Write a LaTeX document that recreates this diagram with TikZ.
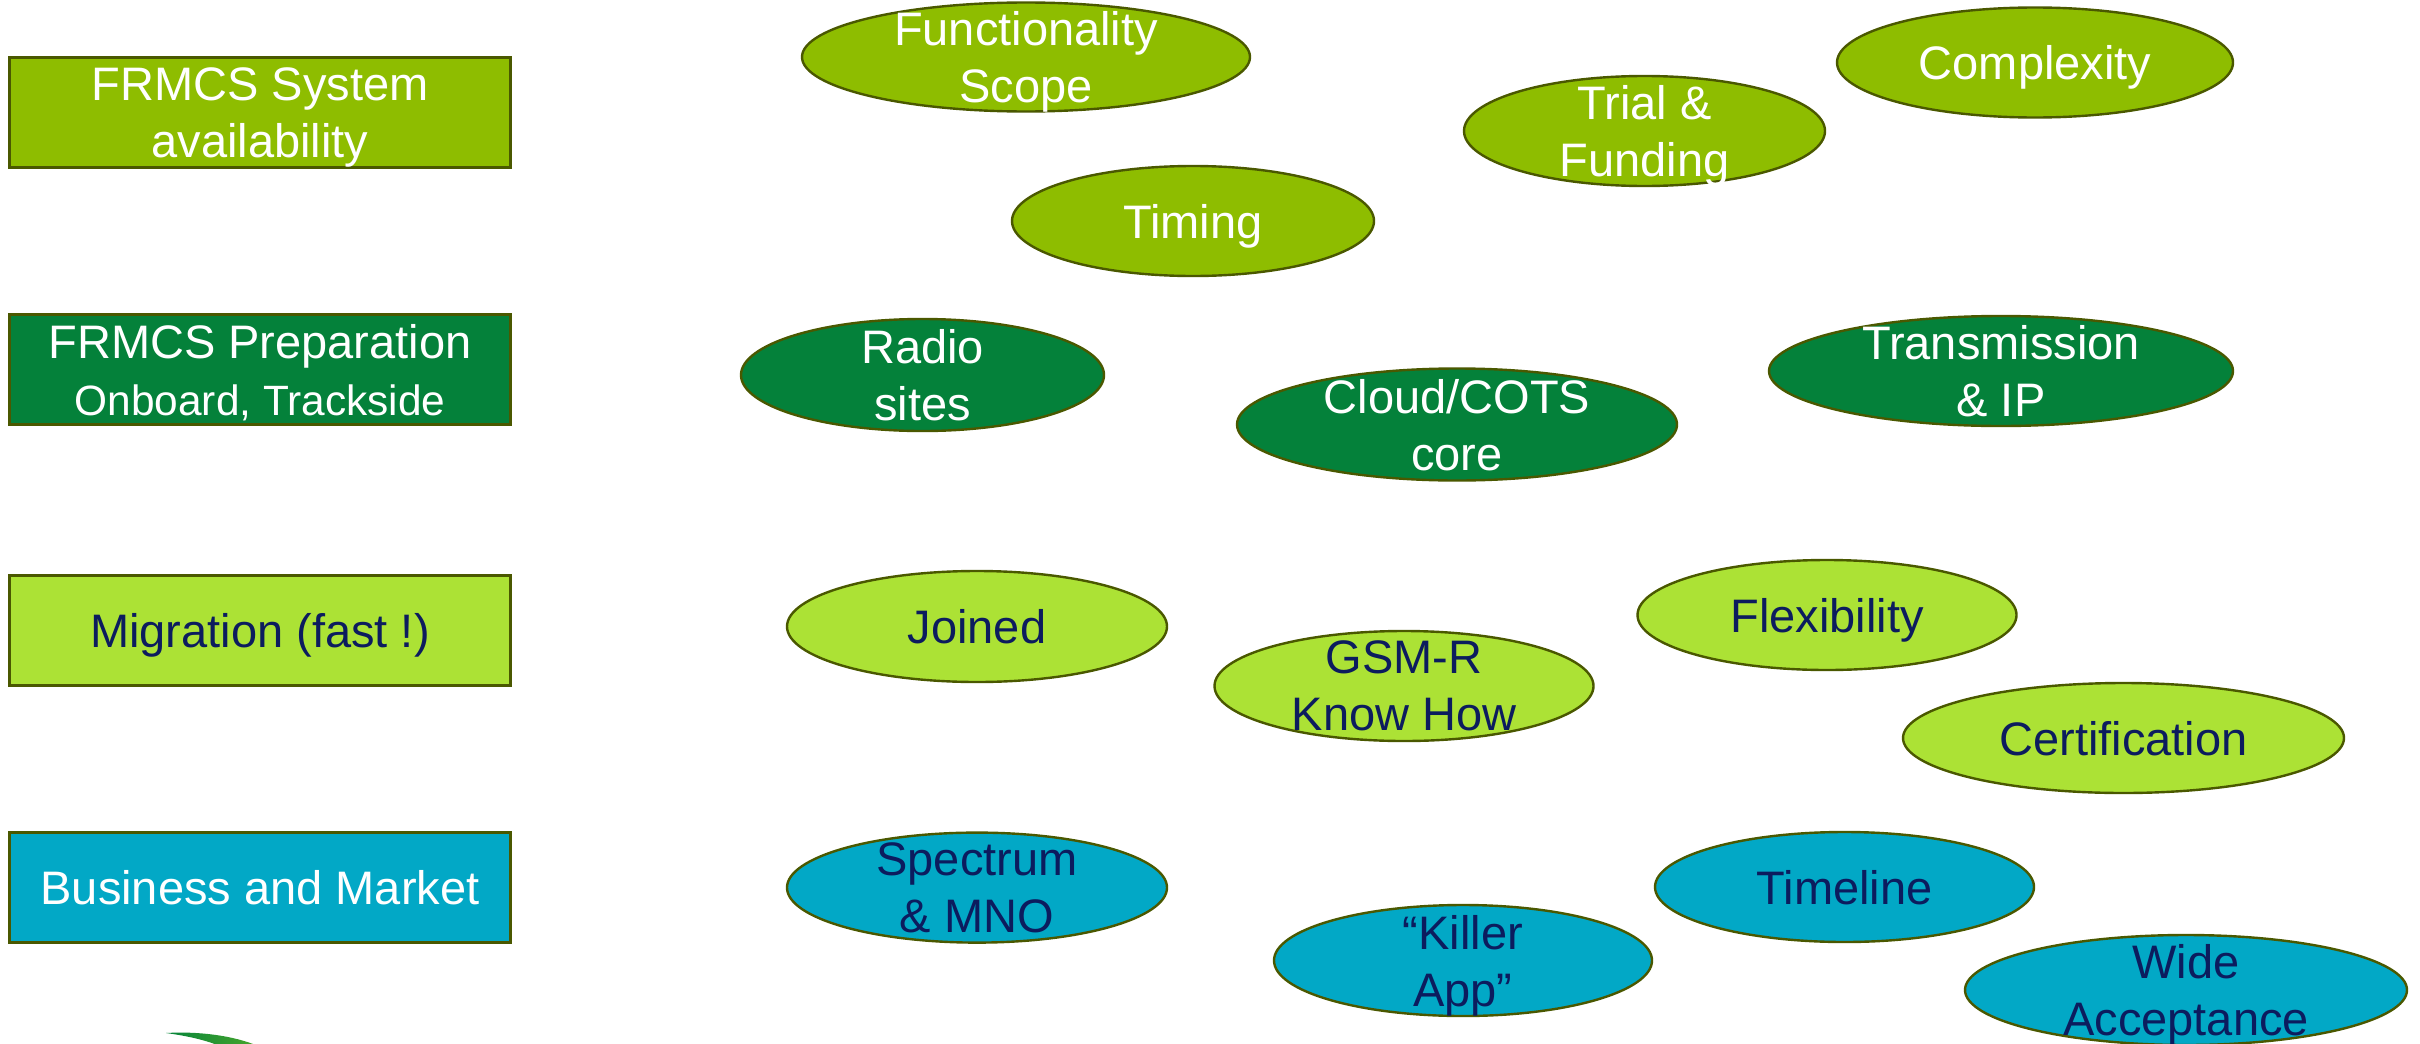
\documentclass[tikz,border=0pt]{standalone}
\usepackage{fontspec}
\setmainfont{Liberation Sans}
\usetikzlibrary{shapes.geometric}

\definecolor{sysgreen}{HTML}{8EBD00}
\definecolor{prepgreen}{HTML}{04813A}
\definecolor{miglime}{HTML}{ACE235}
\definecolor{bizteal}{HTML}{02A8C6}
\definecolor{edge}{HTML}{4A5800}
\definecolor{navy}{HTML}{0C1C5E}
\definecolor{swooshdark}{HTML}{05843A}
\definecolor{swooshlight}{HTML}{4AA62C}

\tikzset{
  rowbox/.style={rectangle, draw=edge, line width=1.4pt,
    minimum width=250.5pt, minimum height=55pt, inner sep=0pt},
  % #1 and #2 are the outer diameters in pixels of the 2420-wide layout
  bubble/.style 2 args={ellipse, draw=edge, line width=1.2pt,
    minimum width=#1*0.5pt-1pt, minimum height=#2*0.5pt-1pt, inner sep=0pt},
  lbl/.style={font=\fontsize{23.5}{28.5}\selectfont, align=center,
    text depth=0pt, inner sep=0pt},
  onwhite/.style={lbl, text=white},
  onnavy/.style={lbl, text=navy},
}

\begin{document}
\begin{tikzpicture}[x=0.5pt, y=-0.5pt]
\useasboundingbox (0,0) rectangle (2420,1044);
\clip (0,0) rectangle (2420,1044);

% category boxes on the left
\node[rowbox, fill=sysgreen]  (sys)  at (260,112.5) {};
\node[onwhite] (sys-t) at (sys) {FRMCS System\\availability};

\node[rowbox, fill=prepgreen] (prep) at (260,369.5) {};
\node[onwhite] (prep-t) at (prep) {FRMCS Preparation\\{\fontsize{21.2}{26.4}\selectfont Onboard, Trackside}};

\node[rowbox, fill=miglime]   (mig)  at (260,630.5) {};
\node[onnavy] (mig-t) at (mig) {Migration (fast !)};

\node[rowbox, fill=bizteal]   (biz)  at (260,887.5) {};
\node[onwhite] (biz-t) at (biz) {Business and Market};

% system availability topics
\node[bubble={450}{111}, fill=sysgreen] (scope) at (1026,57) {};
\node[onwhite] (scope-t) at (scope) {Functionality\\Scope};
\node[bubble={364}{112}, fill=sysgreen] (timing) at (1193,221) {};
\node[onwhite] (timing-t) at (timing) {Timing};
\node[bubble={363}{112}, fill=sysgreen] (trial) at (1644.5,131) {};
\node[onwhite] (trial-t) at (trial) {Trial \&\\Funding};
\node[bubble={398}{112}, fill=sysgreen] (complex) at (2035,62.5) {};
\node[onwhite] (complex-t) at (complex) {Complexity};

% preparation topics
\node[bubble={365}{114}, fill=prepgreen] (radio) at (922.5,375) {};
\node[onwhite] (radio-t) at (radio) {Radio\\sites};
\node[bubble={442}{114}, fill=prepgreen] (cloud) at (1457,424.5) {};
\node[onwhite] (cloud-t) at (cloud) {Cloud/COTS\\core};
\node[bubble={466}{112}, fill=prepgreen] (trans) at (2001,371) {};
\node[onwhite] (trans-t) at (trans) {Transmission\\\& IP};

% migration topics
\node[bubble={382}{113}, fill=miglime] (joined) at (977,626.5) {};
\node[onnavy] (joined-t) at (joined) {Joined};
\node[bubble={381}{112}, fill=miglime] (gsmr) at (1404,686) {};
\node[onnavy] (gsmr-t) at (gsmr) {GSM-R\\Know How};
\node[bubble={381}{112}, fill=miglime] (flex) at (1827,615) {};
\node[onnavy] (flex-t) at (flex) {Flexibility};
\node[bubble={443}{112}, fill=miglime] (cert) at (2123.5,738) {};
\node[onnavy] (cert-t) at (cert) {Certification};

% business and market topics
\node[bubble={382}{112}, fill=bizteal] (spectrum) at (977,887.6) {};
\node[onnavy] (spectrum-t) at (spectrum) {Spectrum\\\& MNO};
\node[bubble={380}{113}, fill=bizteal] (killer) at (1463,960.5) {};
\node[onnavy] (killer-t) at (killer) {“Killer\\App”};
\node[bubble={381}{112}, fill=bizteal] (timeline) at (1844.5,887) {};
\node[onnavy] (timeline-t) at (timeline) {Timeline};
\node[bubble={444}{112}, fill=bizteal] (wide) at (2186,990) {};
\node[onnavy] (wide-t) at (wide) {Wide\\Acceptance};

% green swoosh at the lower left edge
\shade[left color=swooshdark, right color=swooshlight]
  (166,1033) .. controls (200,1031) and (235,1036) .. (258,1046)
  -- (220,1046) .. controls (205,1040) and (188,1036) .. (166,1033) -- cycle;
\end{tikzpicture}
\end{document}
